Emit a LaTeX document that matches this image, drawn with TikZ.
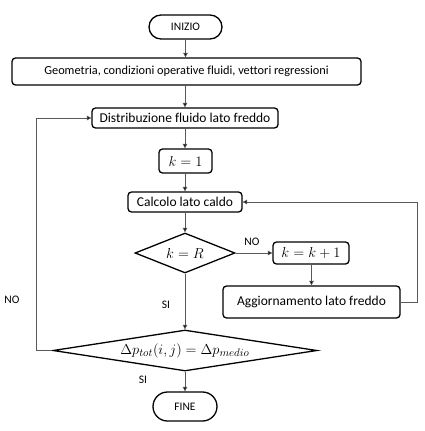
\documentclass[tikz,border=0pt]{standalone}
\usepackage{fontspec}
\setmainfont{Carlito}[Ligatures=NoCommon]
\usetikzlibrary{shapes.geometric,shapes.misc,arrows.meta}
\tikzset{
  box/.style={draw=black, line width=1.3pt, rounded corners=3.5pt, inner sep=0pt, font=\fontsize{13.5}{15}\selectfont},
  term/.style={draw=black, line width=1.3pt, rounded rectangle, inner sep=0pt, font=\fontsize{11.5}{13}\selectfont},
  dec/.style={draw=black, line width=1.3pt, diamond, inner sep=0pt, font=\fontsize{13.5}{15}\selectfont},
  conn/.style={draw=black!65, line width=0.7pt, -{Triangle[length=4.5pt,width=4.5pt,fill=black]}},
  lbl/.style={font=\fontsize{11.5}{13}\selectfont, inner sep=0pt}
}
\begin{document}
\begin{tikzpicture}[x=1pt,y=-1pt]
\useasboundingbox (0,0) rectangle (424,431);
\node[term, minimum width=73pt, minimum height=24pt] (start) at (185.5,27) {INIZIO};
\node[box, font=\fontsize{12.3}{14}\selectfont, minimum width=349pt, minimum height=27pt] (geo) at (186.5,71.5) {Geometria, condizioni operative fluidi, vettori regressioni};
\node[box, minimum width=186pt, minimum height=20pt] (dist) at (185,118) {Distribuzione fluido lato freddo};
\node[box, minimum width=53pt, minimum height=24pt] (k1) at (185.5,161) {$k=1$};
\node[box, minimum width=114pt, minimum height=20pt] (calc) at (185,202) {Calcolo lato caldo};
\node[dec, aspect=2.5, minimum width=100pt, minimum height=40pt] (kR) at (185,253) {$k=R$};
\node[box, minimum width=76pt, minimum height=22pt] (kk) at (311,253) {$k=k+1$};
\node[box, minimum width=177pt, minimum height=32pt] (agg) at (311.5,302) {Aggiornamento lato freddo};
\node[dec, aspect=6.4, font=\fontsize{15.5}{17}\selectfont, minimum width=264pt, minimum height=41pt] (dp) at (185,350.5) {$\Delta p_{tot}(i,j)=\Delta p_{medio}$};
\node[term, minimum width=64pt, minimum height=29pt] (fine) at (185,406.5) {FINE};
\coordinate (rr) at (417,302);
\coordinate (ll) at (36,350.5);
\draw[conn] (start.south) -- (start.south |- geo.north);
\draw[conn] (geo.south -| dist.north) -- (dist.north);
\draw[conn] (dist.south) -- (dist.south |- k1.north);
\draw[conn] (k1.south -| calc.north) -- (calc.north);
\draw[conn] (calc.south) -- (kR.north);
\draw[conn] (kR.east) -- (kk.west);
\draw[conn] (kk.south -| agg.north) -- (agg.north);
\draw[conn] (agg.east) -- (rr) |- (calc.east);
\draw[conn] (kR.south) -- (dp.north);
\draw[conn] (dp.west) -- (ll) |- (dist.west);
\draw[conn] (dp.south) -- (fine.north);
\node[lbl] (no1) at (252,242) {NO};
\node[lbl] (si1) at (166,305) {SI};
\node[lbl] (no2) at (12,300) {NO};
\node[lbl] (si2) at (143,380) {SI};
\end{tikzpicture}
\end{document}
